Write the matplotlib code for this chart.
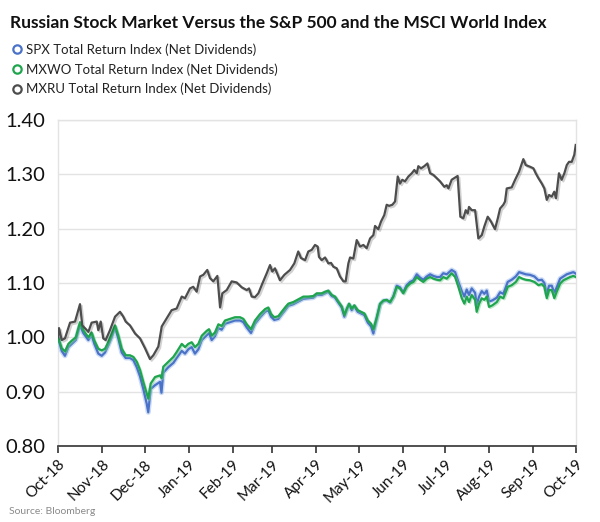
import numpy as np
import pandas as pd
import matplotlib
matplotlib.use("Agg")
import matplotlib.pyplot as plt
import matplotlib.dates as mdates
import matplotlib.patheffects as pe
from matplotlib.lines import Line2D

plt.rcParams['font.family'] = ['Lato', 'DejaVu Sans']

# ---- data (days since 2018-10-01) ----
start_date = "2018-10-01"
days_world = [0, 2.6, 4.9, 7.3, 9.7, 12.5, 15.5, 17.8, 21.4, 23.7, 25.6, 28.4, 30.8, 33.1, 35.4,
              37.8, 40.2, 42.5, 44.9, 47.7, 50.7, 53.1, 55.5, 57.8, 60.1, 62.5, 63.6, 65.3, 68.4,
              71.9, 72.9, 74.2, 77.7, 81.3, 83.6, 87.2, 89.5, 91.8, 94.2, 96.5, 98.9, 101.3,
              104.8, 106.4, 108.3, 110.6, 113.0, 115.3, 117.7, 121.2, 124.7, 128.3, 130.6, 133.0,
              136.0, 138.8, 142.4, 145.9, 148.2, 150.1, 152.4, 155.3, 157.6, 160.0, 162.3, 165.8,
              169.3, 172.9, 176.4, 179.9, 182.3, 185.8, 188.2, 190.5, 192.9, 195.2, 197.5, 199.9,
              201.8, 203.5, 205.1, 207.0, 208.8, 211.2, 213.5, 215.9, 218.3, 220.6, 222.2, 224.6,
              226.9, 229.3, 231.6, 234.0, 236.3, 238.7, 241.0, 243.3, 245.7, 248.1, 250.4, 252.8,
              255.1, 257.4, 259.8, 262.2, 264.5, 266.9, 269.2, 271.5, 273.9, 277.4, 279.8, 282.1,
              284.5, 286.3, 288.0, 289.6, 291.5, 293.9, 295.0, 296.7, 298.6, 300.4, 302.1, 303.7,
              306.1, 309.2, 311.5, 313.8, 316.9, 319.7, 322.6, 324.9, 327.2, 329.6, 332.6, 335.7,
              338.5, 340.9, 342.7, 344.4, 346.0, 347.9, 349.7, 351.4, 353.8, 356.1, 358.5, 360.8,
              363.1, 365.0]
mxwo = [1.000, 0.980, 0.974, 0.988, 0.994, 1.000, 1.028, 1.013, 1.000, 1.009, 0.994, 0.979, 0.976,
        0.979, 0.991, 1.006, 1.022, 1.003, 0.979, 0.967, 0.967, 0.964, 0.955, 0.940, 0.918, 0.897,
        0.887, 0.915, 0.927, 0.930, 0.925, 0.946, 0.955, 0.964, 0.973, 0.988, 0.982, 0.988, 0.991,
        0.982, 0.988, 1.003, 1.012, 1.015, 1.003, 1.009, 1.024, 1.021, 1.031, 1.034, 1.037, 1.037,
        1.034, 1.024, 1.015, 1.031, 1.043, 1.052, 1.055, 1.043, 1.037, 1.039, 1.047, 1.055, 1.062,
        1.065, 1.070, 1.075, 1.075, 1.076, 1.081, 1.081, 1.084, 1.086, 1.078, 1.075, 1.066, 1.057,
        1.041, 1.053, 1.062, 1.053, 1.059, 1.050, 1.047, 1.044, 1.031, 1.025, 1.015, 1.037, 1.062,
        1.068, 1.069, 1.065, 1.075, 1.093, 1.090, 1.081, 1.093, 1.099, 1.102, 1.111, 1.106, 1.102,
        1.108, 1.111, 1.108, 1.106, 1.105, 1.111, 1.108, 1.118, 1.111, 1.093, 1.072, 1.062, 1.075,
        1.065, 1.078, 1.069, 1.047, 1.062, 1.072, 1.069, 1.075, 1.056, 1.059, 1.065, 1.075, 1.072,
        1.093, 1.096, 1.102, 1.111, 1.108, 1.106, 1.105, 1.102, 1.096, 1.098, 1.093, 1.072, 1.087,
        1.087, 1.072, 1.084, 1.099, 1.105, 1.108, 1.111, 1.113, 1.111]
spx = [1.000, 0.975, 0.966, 0.982, 0.988, 0.995, 1.022, 1.008, 0.995, 1.004, 0.988, 0.970, 0.966,
       0.972, 0.985, 1.000, 1.018, 0.998, 0.972, 0.962, 0.962, 0.958, 0.945, 0.928, 0.905, 0.878,
       0.862, 0.905, 0.912, 0.918, 0.898, 0.935, 0.945, 0.953, 0.962, 0.975, 0.970, 0.978, 0.982,
       0.970, 0.978, 0.995, 1.004, 1.008, 0.995, 1.002, 1.017, 1.014, 1.025, 1.028, 1.031, 1.031,
       1.028, 1.018, 1.008, 1.025, 1.037, 1.047, 1.050, 1.038, 1.032, 1.034, 1.042, 1.050, 1.058,
       1.061, 1.066, 1.071, 1.072, 1.073, 1.078, 1.078, 1.081, 1.084, 1.076, 1.073, 1.064, 1.055,
       1.038, 1.051, 1.060, 1.050, 1.057, 1.047, 1.044, 1.041, 1.027, 1.020, 1.007, 1.034, 1.060,
       1.067, 1.068, 1.064, 1.075, 1.095, 1.092, 1.083, 1.096, 1.102, 1.105, 1.116, 1.110, 1.106,
       1.112, 1.116, 1.113, 1.111, 1.111, 1.118, 1.116, 1.124, 1.120, 1.102, 1.085, 1.075, 1.088,
       1.078, 1.090, 1.082, 1.060, 1.075, 1.085, 1.080, 1.086, 1.066, 1.068, 1.073, 1.083, 1.080,
       1.102, 1.106, 1.112, 1.120, 1.118, 1.116, 1.115, 1.112, 1.105, 1.106, 1.100, 1.080, 1.095,
       1.095, 1.082, 1.092, 1.108, 1.112, 1.116, 1.118, 1.120, 1.117]
days_ru = [0, 0.7, 2.6, 4.9, 8.5, 12.0, 15.5, 17.1, 21.4, 23.7, 27.3, 28.4, 30.1, 31.9, 33.6, 36.6,
           40.2, 43.7, 46.0, 47.7, 50.7, 54.3, 57.8, 61.3, 64.8, 67.2, 70.7, 73.1, 76.6, 80.1,
           83.6, 87.2, 89.5, 93.0, 95.3, 97.7, 100.1, 102.4, 105.2, 107.1, 109.4, 112.3, 114.2,
           115.8, 118.9, 122.4, 125.9, 129.5, 133.0, 134.6, 136.5, 138.8, 141.2, 144.0, 147.1,
           149.4, 151.0, 152.9, 156.4, 159.5, 163.5, 166.5, 169.3, 171.2, 174.1, 176.4, 178.8,
           181.1, 183.0, 183.9, 185.8, 188.2, 190.5, 192.4, 194.0, 196.4, 198.7, 201.1, 202.7,
           204.6, 205.8, 208.1, 210.5, 212.8, 215.2, 217.5, 219.9, 222.2, 223.4, 225.7, 227.6,
           229.9, 231.6, 233.3, 235.6, 237.5, 239.4, 241.0, 242.6, 244.5, 246.9, 249.3, 251.1,
           252.8, 253.9, 255.8, 258.1, 260.3, 262.2, 264.5, 266.9, 269.2, 272.2, 273.9, 275.1,
           277.4, 281.6, 283.5, 285.6, 287.3, 288.7, 289.6, 291.5, 293.9, 296.2, 298.6, 300.4,
           302.8, 305.1, 307.9, 309.9, 311.5, 313.8, 315.0, 316.2, 319.7, 322.1, 324.9, 327.9,
           329.6, 332.6, 335.0, 336.6, 338.5, 340.9, 342.7, 344.4, 346.0, 347.9, 349.7, 350.9,
           353.0, 354.9, 356.8, 358.5, 360.1, 362.0, 363.8, 364.8]
mxru = [1.000, 1.017, 0.995, 0.998, 1.027, 1.029, 1.061, 1.022, 1.010, 1.027, 1.029, 1.013, 1.029,
        0.998, 0.995, 1.013, 1.038, 1.047, 1.038, 1.029, 1.022, 1.007, 0.998, 0.980, 0.960, 0.967,
        0.983, 1.020, 1.035, 1.050, 1.053, 1.075, 1.072, 1.090, 1.093, 1.084, 1.112, 1.115, 1.124,
        1.109, 1.103, 1.113, 1.055, 1.081, 1.087, 1.103, 1.101, 1.092, 1.087, 1.090, 1.075, 1.074,
        1.081, 1.099, 1.118, 1.133, 1.121, 1.127, 1.105, 1.115, 1.124, 1.136, 1.158, 1.146, 1.142,
        1.158, 1.161, 1.170, 1.167, 1.148, 1.142, 1.147, 1.136, 1.137, 1.130, 1.127, 1.112, 1.103,
        1.103, 1.136, 1.147, 1.145, 1.179, 1.167, 1.170, 1.164, 1.182, 1.188, 1.205, 1.199, 1.213,
        1.225, 1.244, 1.242, 1.244, 1.250, 1.296, 1.283, 1.290, 1.287, 1.296, 1.302, 1.308, 1.302,
        1.315, 1.311, 1.315, 1.320, 1.302, 1.299, 1.293, 1.287, 1.277, 1.280, 1.274, 1.290, 1.297,
        1.222, 1.219, 1.234, 1.228, 1.240, 1.234, 1.234, 1.182, 1.188, 1.204, 1.222, 1.213, 1.199,
        1.219, 1.237, 1.244, 1.250, 1.274, 1.276, 1.290, 1.305, 1.328, 1.317, 1.314, 1.311, 1.302,
        1.293, 1.283, 1.274, 1.253, 1.262, 1.259, 1.268, 1.256, 1.302, 1.290, 1.302, 1.317, 1.323,
        1.323, 1.336, 1.354]

labels = ["SPX Total Return Index (Net Dividends)",
          "MXWO Total Return Index (Net Dividends)",
          "MXRU Total Return Index (Net Dividends)"]
colors = ["#4a72c8", "#1fa54e", "#4d4d4d"]
y_ticks = [0.80, 0.90, 1.00, 1.10, 1.20, 1.30, 1.40]

base = pd.Timestamp(start_date)
d_world = base + pd.to_timedelta(days_world, unit="D")
d_ru = base + pd.to_timedelta(days_ru, unit="D")

fig = plt.figure(figsize=(6.0, 5.22), dpi=100)
ax = fig.add_axes([58/600, 1-446/522, (576-58)/600, (446-120)/522])

shadow_blue = [pe.Stroke(linewidth=3.6, foreground="#a9c4ee", alpha=0.6), pe.Normal()]
shadow_green = [pe.SimpleLineShadow(offset=(0.8, -0.8), shadow_color="#7fcf95", alpha=0.5), pe.Normal()]
shadow_gray = [pe.SimpleLineShadow(offset=(1.2, -1.2), shadow_color="#000000", alpha=0.18), pe.Normal()]

ax.plot(d_world, spx, color=colors[0], lw=1.6, path_effects=shadow_blue, zorder=3)
ax.plot(d_world, mxwo, color=colors[1], lw=1.6, path_effects=shadow_green, zorder=4)
ax.plot(d_ru, mxru, color=colors[2], lw=1.6, path_effects=shadow_gray, zorder=5)

ax.set_ylim(0.80, 1.40)
ax.set_yticks(y_ticks)
ax.set_yticklabels([f"{v:.2f}" for v in y_ticks], fontsize=14.5, color="#111111")
ax.set_xlim(pd.Timestamp("2018-10-01"), pd.Timestamp("2019-10-01"))
ax.xaxis.set_major_locator(mdates.MonthLocator())
ax.xaxis.set_major_formatter(mdates.DateFormatter("%b-%y"))
for lab in ax.get_xticklabels():
    lab.set_rotation(45)
    lab.set_ha("right")
    lab.set_rotation_mode("anchor")
    lab.set_fontsize(11)
    lab.set_color("#111111")

ax.grid(axis="y", color="#e3e3e3", lw=1.0)
ax.set_axisbelow(True)
for s in ["left", "top", "right"]:
    ax.spines[s].set_color("#e3e3e3")
    ax.spines[s].set_linewidth(1.0)
ax.spines["bottom"].set_color("#333333")
ax.spines["bottom"].set_linewidth(1.2)
ax.tick_params(axis="y", length=0, pad=9)
ax.tick_params(axis="x", length=5, width=1.2, color="#333333", pad=3)

fig.text(10/600, 1-28/522, "Russian Stock Market Versus the S&P 500 and the MSCI World Index",
         fontsize=12.5, fontweight="bold", color="#111111", va="baseline", ha="left")

handles = [Line2D([], [], marker="o", ls="none", markersize=6, markerfacecolor="white",
                  markeredgecolor=c, markeredgewidth=1.6) for c in colors]
leg = fig.legend(handles, labels, loc="upper left", bbox_to_anchor=(4/600, 1-38/522),
                 frameon=False, fontsize=9.5, handletextpad=0.1, labelspacing=0.55,
                 handlelength=1.2, borderaxespad=0)
for t in leg.get_texts():
    t.set_color("#222222")

fig.text(9/600, 1-514/522, "Source: Bloomberg", fontsize=7.5, color="#8a8a8a", va="baseline")

fig.savefig("out.png", dpi=100)
